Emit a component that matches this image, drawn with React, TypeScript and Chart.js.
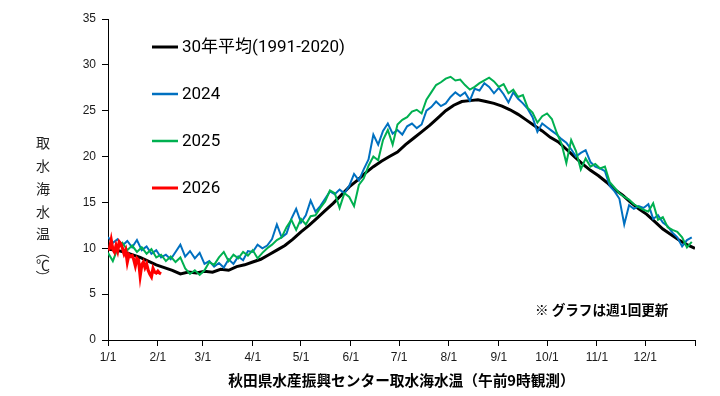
import React, { useEffect, useRef } from "react";
import { Chart, registerables } from "chart.js";

Chart.register(...registerables);

// ---- data ----
const monthStarts = [0, 31, 59, 90, 120, 151, 181, 212, 243, 273, 304, 334, 365];
const monthLabels = ["1/1", "2/1", "3/1", "4/1", "5/1", "6/1", "7/1", "8/1", "9/1", "10/1", "11/1", "12/1", ""];

const seriesLabels = ["30年平均(1991-2020)", "2024", "2025", "2026"];
const seriesColors = ["#000000", "#0070C0", "#00B050", "#FF0000"];

// 30-year mean, one value every 5 days from 1/1
const avgStep = 5;
const avg30 = [
  9.9, 9.8, 9.6, 9.3, 9.0, 8.6, 8.2, 7.9, 7.6, 7.2,
  7.4, 7.3, 7.5, 7.4, 7.7, 7.6, 8.0, 8.2, 8.5, 8.8,
  9.3, 9.8, 10.3, 11.0, 11.8, 12.5, 13.3, 14.1, 14.9, 15.8,
  16.7, 17.4, 18.2, 18.9, 19.5, 20.0, 20.5, 21.3, 22.0, 22.7,
  23.4, 24.2, 25.0, 25.6, 26.0, 26.1, 26.2, 26.0, 25.8, 25.5,
  25.1, 24.6, 24.0, 23.4, 22.8, 22.1, 21.6, 20.8, 20.0, 19.2,
  18.5, 17.9, 17.2, 16.4, 15.8, 15.0, 14.3, 13.7, 12.9, 12.1,
  11.5, 10.9, 10.4, 10.0,
];

// 2024 and 2025, one value every 3 days from 1/1
const yearStep = 3;
const y2024 = [
  11.2, 10.6, 11.0, 10.3, 10.8, 10.1, 10.9, 9.8, 10.2, 9.4,
  9.8, 9.0, 9.3, 8.8, 9.6, 10.4, 9.1, 9.7, 8.9, 9.5,
  8.3, 8.6, 8.0, 8.4, 7.9, 8.8, 8.3, 9.1, 8.7, 9.7,
  9.6, 10.4, 10.0, 10.3, 11.0, 12.6, 11.2, 11.6, 13.2, 14.3,
  12.8, 13.6, 15.2, 14.0, 14.6, 15.4, 16.2, 15.9, 16.4, 16.0,
  16.8, 18.1, 17.4, 18.6, 19.7, 22.4, 21.3, 22.8, 23.6, 22.5,
  22.9, 22.4, 23.3, 23.6, 23.1, 23.5, 25.0, 25.4, 26.0, 25.5,
  25.8, 26.5, 27.0, 26.6, 27.0, 26.1, 27.4, 27.2, 28.0, 27.6,
  26.9, 27.5, 26.8, 25.9, 27.0, 26.3, 25.8, 25.2, 24.3, 22.7,
  23.6, 23.2, 22.8, 22.4, 21.9, 21.5, 20.8, 20.0, 20.4, 20.7,
  19.4, 18.9, 18.7, 18.4, 16.8, 16.2, 15.4, 12.6, 14.7, 14.3,
  14.6, 14.4, 14.8, 13.2, 13.6, 12.8, 12.4, 11.7, 11.2, 10.2,
  10.9, 11.2,
];
const y2025 = [
  9.5, 8.6, 10.0, 10.6, 9.8, 10.3, 9.6, 10.1, 9.4, 9.9,
  9.0, 9.3, 8.6, 9.1, 8.5, 9.0, 7.8, 7.2, 7.6, 7.1,
  7.6, 8.5, 8.2, 9.0, 9.6, 8.6, 9.3, 8.9, 9.6, 9.2,
  9.8, 8.9, 9.5, 10.0, 10.4, 10.9, 11.2, 12.3, 13.1, 12.0,
  13.2, 12.6, 13.5, 13.6, 14.4, 15.1, 16.3, 16.0, 14.4, 16.0,
  15.6, 14.6, 16.9, 17.6, 19.0, 20.0, 19.6, 21.8, 22.9, 21.3,
  23.5, 24.0, 24.3, 24.9, 25.1, 24.7, 26.2, 27.0, 27.8, 28.1,
  28.5, 28.7, 28.3, 28.4, 27.8, 27.3, 27.6, 28.0, 28.3, 28.6,
  28.2, 27.6, 27.9, 26.9, 27.3, 26.5, 26.7, 25.3, 24.8, 23.7,
  24.4, 24.7, 24.1, 22.6, 21.4, 19.3, 21.8, 20.6, 18.6, 19.8,
  18.9, 19.2, 18.7, 18.9, 17.2, 16.6, 16.0, 15.6, 15.3, 14.8,
  14.5, 14.2, 14.0, 14.9, 13.1, 13.4, 12.3, 12.0, 11.8, 11.2,
  10.1, 10.7,
];

// 2026, daily from 1/1
const dayStep = 1;
const y2026 = [
  9.8, 10.0, 10.9, 9.9, 9.6, 10.3, 9.7, 10.7, 10.5, 10.0,
  9.4, 9.8, 8.5, 9.3, 9.1, 9.2, 8.8, 8.1, 8.9, 8.7,
  7.0, 8.2, 8.5, 7.9, 8.3, 7.6, 7.2, 6.9, 7.8, 7.4,
  7.3, 7.5, 7.3, 7.2,
];

const yMin = 0;
const yMax = 35;
const yStepSize = 5;

const yAxisLabel = ["取", "水", "海", "水", "温", "（", "℃", "）"];
const xAxisTitle = "秋田県水産振興センター取水海水温（午前9時観測）";
const noteText = "※ グラフは週1回更新";

const toPoints = (vals: number[], step: number) => vals.map((v, i) => ({ x: i * step, y: v }));

const overlayPlugin = {
  id: "overlayText",
  afterDraw(chart: any) {
    const { ctx, chartArea } = chart;
    ctx.save();
    // legend inside plot
    const lx = chartArea.left + 44;
    chart.data.datasets.forEach((ds: any, i: number) => {
      const y = chartArea.top + 28 + i * 47;
      ctx.strokeStyle = ds.borderColor;
      ctx.lineWidth = i === 1 || i === 2 ? 2.5 : 3;
      ctx.lineCap = "butt";
      ctx.beginPath();
      ctx.moveTo(lx, y);
      ctx.lineTo(lx + 26, y);
      ctx.stroke();
      ctx.fillStyle = "#000";
      ctx.font = '17px Roboto, "Noto Sans CJK JP", sans-serif';
      ctx.textAlign = "left";
      ctx.textBaseline = "middle";
      ctx.fillText(ds.label, lx + 30, y + 1);
    });
    // vertical y-axis label
    ctx.fillStyle = "#222";
    ctx.font = '14px "Noto Sans CJK JP", sans-serif';
    ctx.textAlign = "center";
    ctx.textBaseline = "middle";
    const ys = [143, 166, 189, 212, 234, 252, 265, 277];
    yAxisLabel.forEach((ch, i) => {
      const cy = ys[i];
      if (ch === "（" || ch === "）") {
        ctx.save();
        ctx.translate(43, cy);
        ctx.rotate(Math.PI / 2);
        ctx.fillText(ch, 0, 0);
        ctx.restore();
      } else {
        ctx.fillText(ch, 43, cy);
      }
    });
    // note
    ctx.fillStyle = "#000";
    ctx.font = 'bold 13.6px "Noto Sans CJK JP", sans-serif';
    ctx.textAlign = "left";
    ctx.textBaseline = "middle";
    ctx.fillText(noteText, chartArea.right - 160, 310);
    ctx.restore();
  },
};

export default function App() {
  const canvasRef = useRef<HTMLCanvasElement | null>(null);

  useEffect(() => {
    if (!canvasRef.current) return;
    const seriesData = [
      toPoints(avg30, avgStep),
      toPoints(y2024, yearStep),
      toPoints(y2025, yearStep),
      toPoints(y2026, dayStep),
    ];
    const widths = [3, 2, 2, 3.2];
    const orders = [4, 3, 2, 1];
    const chart = new Chart(canvasRef.current, {
      type: "line",
      data: {
        datasets: seriesData.map((d, i) => ({
          label: seriesLabels[i],
          data: d,
          borderColor: seriesColors[i],
          backgroundColor: seriesColors[i],
          borderWidth: widths[i],
          pointRadius: 0,
          tension: 0,
          fill: false,
          order: orders[i],
        })),
      },
      options: {
        animation: false,
        responsive: false,
        devicePixelRatio: 1,
        parsing: false as any,
        layout: { padding: { top: 19, right: 25, left: 0, bottom: 0 } },
        plugins: {
          legend: { display: false },
          tooltip: { enabled: false },
          title: { display: false },
        },
        scales: {
          x: {
            type: "linear",
            min: monthStarts[0],
            max: monthStarts[monthStarts.length - 1],
            afterBuildTicks: (axis: any) => {
              axis.ticks = monthStarts.map((v) => ({ value: v }));
            },
            afterFit: (s: any) => {
              s.height = 56;
            },
            ticks: {
              autoSkip: false,
              maxRotation: 0,
              padding: 4,
              color: "#1a1a1a",
              font: { family: '"Liberation Sans", sans-serif', size: 12 },
              callback: (_v: any, i: number) => monthLabels[i] ?? "",
            },
            grid: {
              display: true,
              drawOnChartArea: false,
              drawTicks: true,
              tickLength: 6,
              color: "#000",
            },
            border: { display: true, color: "#000", width: 1 },
            title: {
              display: true,
              text: xAxisTitle,
              color: "#000",
              font: { family: '"Noto Sans CJK JP", sans-serif', size: 14.7, weight: "bold", lineHeight: 1.2 },
              padding: { top: 0, bottom: 7 },
            },
          },
          y: {
            min: yMin,
            max: yMax,
            afterFit: (s: any) => {
              s.width = 108;
            },
            ticks: {
              stepSize: yStepSize,
              padding: 6,
              color: "#1a1a1a",
              font: { family: '"Liberation Sans", sans-serif', size: 12 },
            },
            grid: {
              display: true,
              drawOnChartArea: false,
              drawTicks: true,
              tickLength: 6,
              color: "#000",
            },
            border: { display: true, color: "#000", width: 1 },
          },
        },
      },
      plugins: [overlayPlugin],
    });
    return () => chart.destroy();
  }, []);

  return (
    <div style={{ position: "absolute", left: 0, top: 0, width: 720, height: 396, background: "#fff" }}>
      <canvas ref={canvasRef} width={720} height={396} />
    </div>
  );
}
